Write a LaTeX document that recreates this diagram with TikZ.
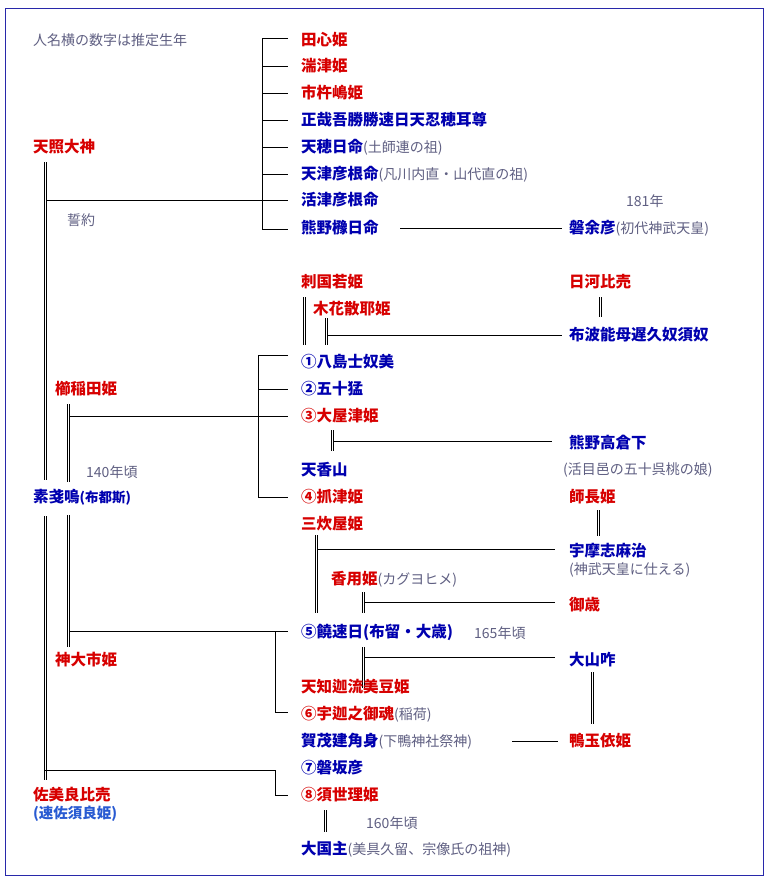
\documentclass[tikz,border=0pt]{standalone}
\usepackage{fontspec}
\setmainfont{Noto Sans CJK JP}
\definecolor{rd}{RGB}{215,0,0}
\definecolor{bl}{RGB}{0,0,175}
\definecolor{gr}{RGB}{95,95,130}
\definecolor{lb}{RGB}{40,90,210}
\definecolor{fr}{RGB}{40,40,170}
\tikzset{
 nm/.style={anchor=west,inner sep=0pt,font=\fontsize{15.5}{17}\selectfont\bfseries},
 r/.style={nm,text=rd}, b/.style={nm,text=bl},
 g/.style={anchor=west,inner sep=0pt,text=gr,font=\fontsize{14}{16}\selectfont},
 ln/.style={line width=1pt},
 dbl/.style={double,double distance=1.8pt,line width=1pt}
}
\newcommand{\pg}[1]{{\color{gr}\fontsize{14}{16}\selectfont\mdseries #1}}
\begin{document}
\begin{tikzpicture}[x=1pt,y=-1pt]
\useasboundingbox (0,0) rectangle (769,881);
\fill[white] (0,0) rectangle (769,881);
\draw[fr,line width=1pt] (5,8) rectangle (763,875);
\node[g] (note) at (33,40) {人名横の数字は推定生年};
\node[r] (n1) at (301,40) {田心姫};
\node[r] (n2) at (301,66) {湍津姫};
\node[r] (n3) at (301,93) {市杵嶋姫};
\node[b] (n4) at (301,120) {正哉吾勝勝速日天忍穂耳尊};
\node[b] (n5) at (301,147) {天穂日命\pg{(土師連の祖)}};
\node[b] (n6) at (301,174) {天津彦根命\pg{(凡川内直・山代直の祖)}};
\node[b] (n7) at (301,200) {活津彦根命};
\node[b] (n8) at (301,228) {熊野櫲日命};
\node[g] (y181) at (626,201) {181年};
\node[b] (iware) at (569,228) {磐余彦\pg{(初代神武天皇)}};
\node[r] (ama) at (33,147) {天照大神};
\node[g] (seiyaku) at (67,220) {誓約};
\draw[ln] (288,38) -- (262,38) -- (262,229) -- (288,229);
\foreach \yy in {66,93,120,147,174,200} \draw[ln] (262,\yy) -- (288,\yy);
\draw[ln] (45,200) -- (262,200);
\draw[ln] (400,228) -- (562,228);
\draw[dbl] (45.5,162) -- (45.5,480);
\draw[dbl] (45.5,516) -- (45.5,780);

\node[r] (sashi) at (301,282) {刺国若姫};
\node[r] (hika) at (569,282) {日河比売};
\node[r] (kono) at (313,309) {木花散耶姫};
\node[b] (fuha) at (569,335) {布波能母遅久奴須奴};
\draw[dbl] (304.5,297) -- (304.5,345);
\draw[dbl] (326.5,318) -- (326.5,345);
\draw[ln] (328,335) -- (562,335);
\draw[dbl] (600.5,297) -- (600.5,317);

\node[b] (c1) at (301,362) {①八島士奴美};
\node[b] (c2) at (301,389) {②五十猛};
\node[r] (c3) at (301,416) {③大屋津姫};
\node[b] (taka) at (569,443) {熊野高倉下};
\node[b] (kagu) at (301,470) {天香山};
\node[g] (ikume) at (563,470) {(活目邑の五十呉桃の娘)};
\node[r] (c4) at (301,497) {④抓津姫};
\node[r] (shina) at (569,497) {師長姫};
\draw[ln] (288,355) -- (258,355) -- (258,497) -- (288,497);
\draw[ln] (258,389) -- (288,389);
\draw[ln] (70,416) -- (288,416);
\draw[dbl] (332.5,430) -- (332.5,451);
\draw[ln] (334,441) -- (552,441);
\node[r] (kushi) at (55,389) {櫛稲田姫};
\draw[dbl] (68.5,404) -- (68.5,482);
\draw[dbl] (68.5,515) -- (68.5,647);
\node[g] (y140) at (86,472) {140年頃};
\node[b] (susa) at (33,497) {素戔嗚\fontsize{13.5}{15}\selectfont(布都斯)};

\node[r] (mika) at (301,524) {三炊屋姫};
\draw[dbl] (316.5,535) -- (316.5,613);
\draw[ln] (318,549) -- (555,549);
\draw[dbl] (598.5,510) -- (598.5,536);
\node[b] (umashi) at (569,551) {宇摩志麻治};
\node[g] (jimmu) at (569,570) {(神武天皇に仕える)};
\node[r] (kayo) at (331,579) {香用姫\pg{(カグヨヒメ)}};
\draw[dbl] (363.5,592) -- (363.5,613);
\draw[ln] (365,602) -- (555,602);
\node[r] (mitoshi) at (569,605) {御歳};
\node[b] (c5) at (301,632) {⑤饒速日(布留・大歳)};
\node[g] (y165) at (474,633) {165年頃};
\draw[ln] (70,631) -- (288,631);
\draw[ln] (275,631) -- (275,712) -- (288,712);
\node[r] (kamuo) at (55,660) {神大市姫};
\draw[dbl] (363.5,647) -- (363.5,688);
\draw[ln] (365,657) -- (555,657);
\node[b] (oyama) at (569,660) {大山咋};
\node[r] (amachi) at (301,687) {天知迦流美豆姫};
\node[r] (c6) at (301,714) {⑥宇迦之御魂\pg{(稲荷)}};
\draw[dbl] (592.5,672) -- (592.5,724);
\node[b] (kamo) at (301,741) {賀茂建角身\pg{(下鴨神社祭神)}};
\draw[ln] (512,741) -- (558,741);
\node[r] (tamayori) at (569,741) {鴨玉依姫};
\node[b] (c7) at (301,768) {⑦磐坂彦};
\draw[ln] (45,770) -- (275,770) -- (275,795) -- (288,795);
\node[r] (c8) at (301,795) {⑧須世理姫};
\node[r] (samira) at (33,795) {佐美良比売};
\node[anchor=west,inner sep=0pt,text=lb,font=\fontsize{14.5}{16}\selectfont\bfseries] (haya) at (33,814) {(速佐須良姫)};
\draw[dbl] (325.5,810) -- (325.5,832);
\node[g] (y160) at (366,823) {160年頃};
\node[b] (okuni) at (301,849) {大国主\pg{(美具久留、宗像氏の祖神)}};
\end{tikzpicture}
\end{document}
